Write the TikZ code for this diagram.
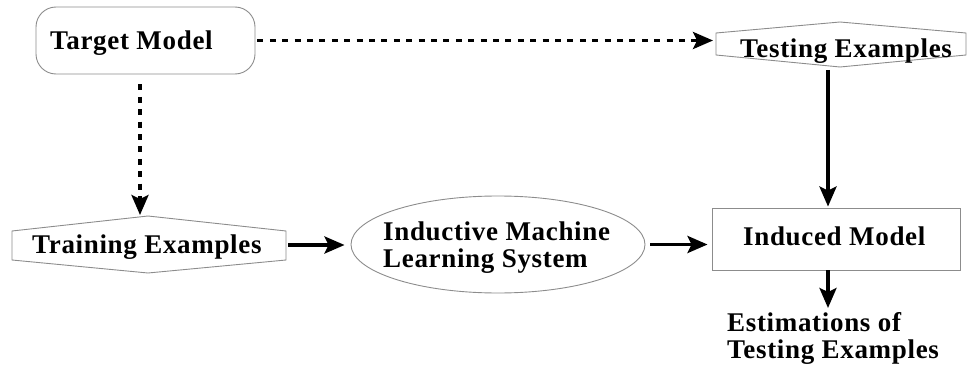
\documentclass[tikz,border=0pt]{standalone}
\usepackage{fontspec}
\setmainfont{Liberation Serif}[LetterSpace=2.5]
\usetikzlibrary{arrows.meta,calc,shapes.geometric}

\begin{document}
\begin{tikzpicture}[x=1pt,y=-1pt,
  outline/.style={draw=black!45, line width=0.9pt},
  lbl/.style={font=\fontsize{27}{27}\selectfont\bfseries, inner sep=0pt, anchor=base west, align=left},
  flow/.style={line width=3.5pt, -{Stealth[length=20pt,width=17pt,inset=4pt]}},
  dotflow/.style={flow, dash pattern=on 6pt off 6.4pt}]
  \useasboundingbox (0,0) rectangle (969,369);

  % boxes
  \node[outline, rounded corners=20pt, minimum width=219pt, minimum height=67pt] (tm) at (145.5,40.5) {};
  \node[outline, ellipse, minimum width=294pt, minimum height=97pt] (ims) at (498,244.5) {};
  \node[outline, minimum width=248pt, minimum height=62pt] (im) at (836,239) {};

  % hexagons
  \draw[outline] (716,33) -- (840,22) -- (966,33) -- (966,55) -- (840,67) -- (716,55) -- cycle;
  \draw[outline] (12,231) -- (148,216) -- (286,231) -- (286,260) -- (148,273) -- (12,260) -- cycle;
  \coordinate (te-in) at (716,41);
  \coordinate (te-out) at (828,66);
  \coordinate (tr-in) at (140,217);
  \coordinate (tr-out) at (286,245);
  \coordinate (est-in) at (828,308);

  % labels (multi-line labels are anchored on the baseline of their last line)
  \node[lbl] (tml) at (50,49) {Target Model};
  \node[lbl] (tel) at (740,58) {Testing Examples};
  \node[lbl] (trl) at (32,253) {Training Examples};
  \node[lbl] (imsl) at (383,267) {Inductive Machine\\Learning System};
  \node[lbl] (iml) at (743,245) {Induced Model};
  \node[lbl] (est) at (727,358) {Estimations of\\Testing Examples};

  % connectors
  \draw[dotflow, shorten <=2pt, shorten >=3pt] (tm.east) -- (tm.east -| te-in);
  \draw[dotflow, shorten <=10pt, shorten >=2pt] (tm.south -| tr-in) -- (tr-in);
  \draw[flow, shorten <=4pt, shorten >=1pt] (te-out) -- (te-out |- im.north);
  \draw[flow, shorten <=2pt, shorten >=6pt] (tr-out) -- (tr-out -| ims.west);
  \draw[flow, shorten <=5pt, shorten >=4pt] (ims.east) -- (ims.east -| im.west);
  \draw[flow] (im.south -| te-out) -- (est-in);
\end{tikzpicture}
\end{document}
